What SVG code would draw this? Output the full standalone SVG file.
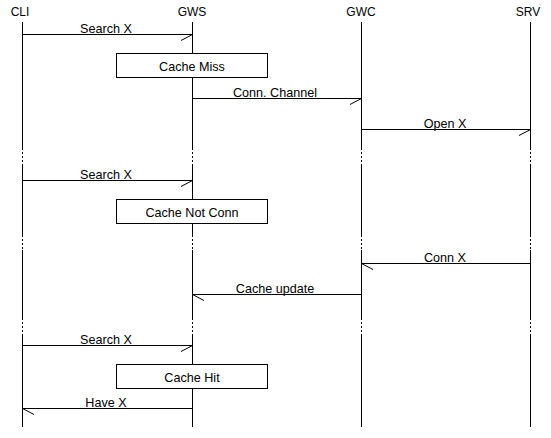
<svg xmlns="http://www.w3.org/2000/svg" width="551" height="438" viewBox="0 0 551 438">
<style>
text{font-family:"Liberation Sans",Arial,sans-serif;font-size:12.6px;fill:#000;text-anchor:middle}
text.hd{font-size:12px}
.ll{stroke:#000;stroke-width:1;fill:none}
.dot{stroke:#000;stroke-width:1;stroke-dasharray:2,2;fill:none}
.msg{stroke:#000;stroke-width:1;fill:none}
.box{fill:#fff;stroke:#000;stroke-width:1}
</style>
<rect width="551" height="438" fill="#fff"/>
<g id="lifelines">
<g id="CLI"><text class="hd" x="20" y="16">CLI</text>
<path class="ll" d="M22.5 22V148M22.5 166V235M22.5 250V318M22.5 334V427"/>
<path class="dot" d="M22.5 148V166M22.5 235V250M22.5 318V334"/></g>
<g id="GWS"><text class="hd" x="192" y="16">GWS</text>
<path class="ll" d="M192.5 22V148M192.5 166V235M192.5 250V318M192.5 334V427"/>
<path class="dot" d="M192.5 148V166M192.5 235V250M192.5 318V334"/></g>
<g id="GWC"><text class="hd" x="361" y="16">GWC</text>
<path class="ll" d="M361.5 22V148M361.5 166V235M361.5 250V318M361.5 334V427"/>
<path class="dot" d="M361.5 148V166M361.5 235V250M361.5 318V334"/></g>
<g id="SRV"><text class="hd" x="528" y="16">SRV</text>
<path class="ll" d="M530.5 22V148M530.5 166V235M530.5 250V318M530.5 334V427"/>
<path class="dot" d="M530.5 148V166M530.5 235V250M530.5 318V334"/></g>
</g>
<g id="connectors">
<path class="msg" d="M22.5 34.5H192.5L181 40.5"/><text x="106" y="32.5">Search X</text>
<path class="msg" d="M192.5 98.5H361.5L350 104.5"/><text x="275" y="96.5">Conn. Channel</text>
<path class="msg" d="M361.5 129.5H530.5L519 135.5"/><text x="445" y="127.5">Open X</text>
<path class="msg" d="M22.5 180.5H192.5L181 186.5"/><text x="106" y="178.5">Search X</text>
<path class="msg" d="M530.5 263.5H361.5L373 269.5"/><text x="445" y="261.5">Conn X</text>
<path class="msg" d="M361.5 294.5H192.5L204 300.5"/><text x="275" y="292.5">Cache update</text>
<path class="msg" d="M22.5 345.5H192.5L181 351.5"/><text x="106" y="343.5">Search X</text>
<path class="msg" d="M192.5 408.5H22.5L34 414.5"/><text x="106" y="406.5">Have X</text>
</g>
<g id="box-cache-miss"><rect class="box" x="116.5" y="53.5" width="151" height="24"/><text x="192" y="71">Cache Miss</text></g>
<g id="box-cache-not-conn"><rect class="box" x="116.5" y="199.5" width="151" height="24"/><text x="192" y="217">Cache Not Conn</text></g>
<g id="box-cache-hit"><rect class="box" x="116.5" y="364.5" width="151" height="24"/><text x="192" y="382">Cache Hit</text></g>
</svg>
